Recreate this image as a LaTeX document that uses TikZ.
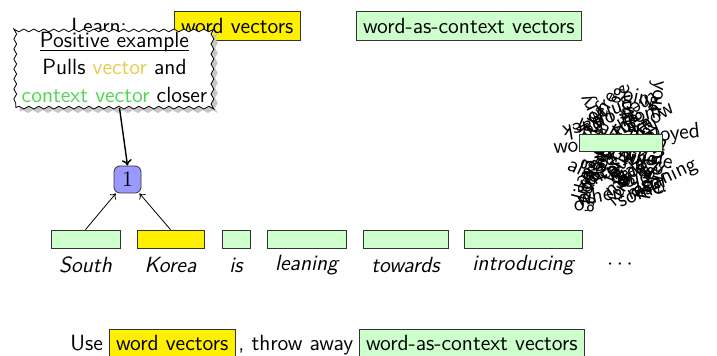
\documentclass[tikz,border=0pt]{standalone}
\usetikzlibrary{arrows.meta,shadows,decorations.pathmorphing,calc}

\definecolor{boxyellow}{RGB}{255,240,0}
\definecolor{boxgreen}{RGB}{204,255,204}
\definecolor{hlyellow}{RGB}{228,205,80}
\definecolor{hlgreen}{RGB}{80,215,80}
\definecolor{numblue}{RGB}{153,153,255}

\tikzset{
  wordbox/.style={draw=black!80, fill=boxyellow, anchor=base west},
  ctxbox/.style={draw=black!80, fill=boxgreen, anchor=base west},
  plain/.style={inner sep=0pt, anchor=base west},
  vecbar/.style={draw=black!80, fill=boxgreen, inner sep=0pt, minimum height=9pt},
  tokvec/.style={vecbar, fill=boxyellow},
  tokword/.style={font=\fontsize{11}{13.6}\selectfont\sffamily\itshape},
  numnode/.style={draw=black!80, fill=numblue, rounded corners=3pt, minimum size=13.5pt, inner sep=0pt},
  callout/.style={draw, fill=white, align=center, inner xsep=3pt, inner ysep=2.5pt,
    text depth=0.3pt,
    decorate, decoration={snake, segment length=5pt, amplitude=0.7pt},
    drop shadow={shadow xshift=2pt, shadow yshift=-2pt, fill=black!22, opacity=1}},
  thinarrow/.style={-{To[length=2.5pt,width=4pt]}, line width=0.4pt},
  calloutarrow/.style={-{To[length=3pt,width=5pt]}, line width=0.7pt},
  cloudword/.style={inner sep=0pt, font=\fontsize{11}{13.6}\selectfont\sffamily},
}

\begin{document}
\begin{tikzpicture}[x=0.5pt, y=-0.5pt, font=\fontsize{11}{13.6}\selectfont\sffamily]
\useasboundingbox (0,0) rectangle (717,356);

% top line
\node[plain] (learn) at (71,33.6) {Learn:};
\node[wordbox] (topw) at (174,33.6) {word vectors};
\node[ctxbox] (topc) at (356,33.6) {word-as-context vectors};

% token vectors
\node[vecbar, minimum width=34.5pt] (bS) at (85.5,239) {};
\node[tokvec, minimum width=33.5pt] (bK) at (170.5,239) {};
\node[vecbar, minimum width=14pt] (bI) at (236,239) {};
\node[vecbar, minimum width=39.5pt] (bL) at (306.5,239) {};
\node[vecbar, minimum width=42.5pt] (bT) at (405.5,239) {};
\node[vecbar, minimum width=59pt] (bN) at (523,239) {};

% tokens
\node[tokword] (wS) at ($(bS)+(0,26)$) {South};
\node[tokword] (wK) at ($(bK)+(0,26)$) {Korea};
\node[tokword] (wI) at ($(bI)+(0,26)$) {is};
\node[tokword] (wL) at ($(bL)+(0,26)$) {leaning};
\node[tokword] (wT) at ($(bT)+(0,26)$) {towards};
\node[tokword] (wN) at ($(bN)+(0,26)$) {introducing};
\node (dots) at (620,265) {$\cdots$};

% the pair
\node[numnode] (one) at (127.5,179.5) {$1$};
\draw[thinarrow] (bS.north) -- (one);
\draw[thinarrow] (bK.north) -- (one);

% cloud of context words
\foreach \w/\a/\x/\y/\an [count=\i] in {
  very/115/603/128/west, going/-12/612/93/west, you/-95/657/80/west,
  of/35/588/118/west, from/15/620/120/west, work/3/553/146/west,
  back/190/604/126/west, employed/6/617/141/west, whole/-10/622/153/west,
  meaning/25/628/196/west, take/-95/652/158/west, go/175/596/205/west,
  being/-115/606/152/west, make/-130/612/150/west, with/-65/612/152/west,
  made/40/606/192/west, good/-100/592/160/west,
  the/30/625/125/center, a/0/632/128/center, was/-40/640/165/center,
  for/70/610/170/center, it/110/600/175/center, to/-20/620/178/center,
  in/160/645/175/center, on/200/605/120/center, is/250/630/115/center,
  as/15/595/165/center, at/300/640/120/center, by/45/650/130/center,
  can/-70/615/170/center, not/130/630/185/center, but/-150/600/180/center,
  has/80/645/185/center, had/20/630/170/center, all/-30/610/130/center,
  new/140/650/160/center, one/190/635/180/center, out/60/620/165/center,
  so/240/605/160/center,
  there/60/600/112/center, their/-150/640/108/center, time/100/625/105/center,
  year/-45/590/135/center, think/155/645/140/center, know/35/652/118/center,
  more/-80/598/150/center, any/-120/618/190/center, some/20/640/195/center,
  like/75/582/185/center, just/-170/650/185/center, over/130/592/140/center,
  then/-60/655/140/center, only/200/615/110/center, when/10/600/195/center,
  even/95/658/175/center, also/-25/585/170/center, into/165/628/160/center,
  them/50/612/138/center}
  \node[cloudword, rotate=\a, anchor=\an] (cw\i) at (\x,\y) {\w};
\node[vecbar, minimum width=41.5pt, minimum height=8.5pt] (bC) at (620.5,142.5) {};

% bottom line
\node[plain] (use) at (70,351) {Use};
\node[wordbox] (botw) at (109,351) {word vectors};
\node[plain] (throw) at (238,351) {, throw away};
\node[ctxbox] (botc) at (359,351) {word-as-context vectors};

% callout
\node[callout] (note) at (114.5,67.5)
  {\underline{\raisebox{0pt}[\height][0pt]{Positive example}}\\
   Pulls \textcolor{hlyellow}{vector} and\\
   \textcolor{hlgreen}{context vector} closer};
\draw[calloutarrow] ($(note.south)+(5,0)$) -- (one.north);
\end{tikzpicture}
\end{document}
